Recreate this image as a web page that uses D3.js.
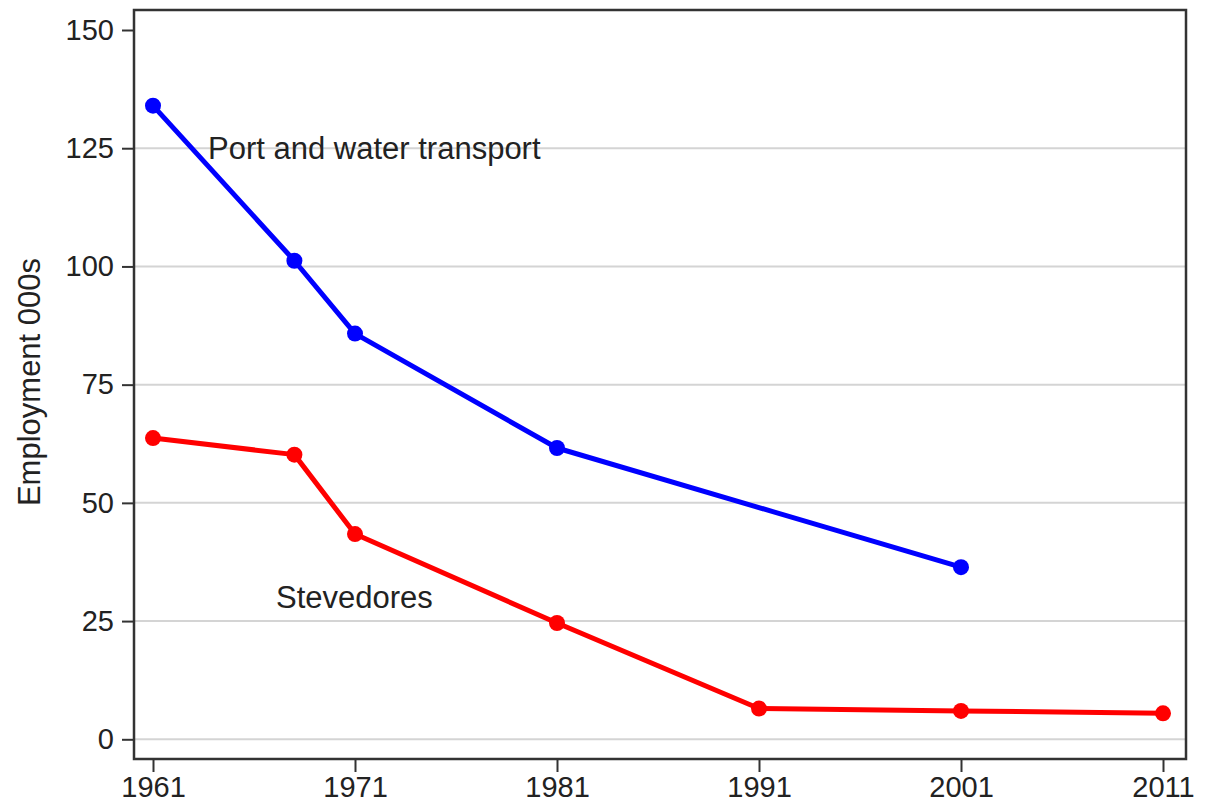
<!DOCTYPE html>
<html>
<head>
<meta charset="utf-8">
<script src="https://cdn.jsdelivr.net/npm/d3@7"></script>
<style>
  body { margin: 0; background: #fff; }
  svg text { font-family: "Liberation Sans", Arial, sans-serif; fill: #222; }
</style>
</head>
<body>
<svg width="1205" height="802"></svg>
<script>
var portYears = [1961, 1968, 1971, 1981, 2001];
var portValues = [134, 101.2, 85.8, 61.6, 36.4];
var stevYears = [1961, 1968, 1971, 1981, 1991, 2001, 2011];
var stevValues = [63.7, 60.2, 43.4, 24.6, 6.5, 6.0, 5.5];
var xTicks = [1961, 1971, 1981, 1991, 2001, 2011];
var yTicks = [0, 25, 50, 75, 100, 125, 150];

var svg = d3.select("svg"),
    frame = {left: 134, top: 10, right: 1186, bottom: 759};

var x = d3.scaleLinear().domain([1961, 2011]).range([153, 1163]);
var y = d3.scaleLinear().domain([0, 150]).range([739.3, 30]);

// grid
svg.append("g").selectAll("line")
    .data(yTicks.filter(function(d) { return d < 150; }))
  .enter().append("line")
    .attr("x1", frame.left).attr("x2", frame.right)
    .attr("y1", function(d) { return y(d); })
    .attr("y2", function(d) { return y(d); })
    .attr("stroke", "#d4d4d4").attr("stroke-width", 2);

// axes
var yAxis = svg.append("g")
    .attr("transform", "translate(" + frame.left + ",0)")
    .call(d3.axisLeft(y).tickValues(yTicks).tickSize(12).tickPadding(8));
var xAxis = svg.append("g")
    .attr("transform", "translate(0," + frame.bottom + ")")
    .call(d3.axisBottom(x).tickValues(xTicks).tickFormat(d3.format("d")).tickSize(13).tickPadding(4));

[yAxis, xAxis].forEach(function(a) {
  a.select(".domain").remove();
  a.selectAll("line").attr("stroke", "#333").attr("stroke-width", 2);
  a.selectAll("text").style("font-size", "29px").attr("fill", "#222");
});

svg.append("rect")
    .attr("x", frame.left).attr("y", frame.top)
    .attr("width", frame.right - frame.left).attr("height", frame.bottom - frame.top)
    .attr("fill", "none").attr("stroke", "#333").attr("stroke-width", 2.5);

svg.append("text")
    .attr("transform", "translate(40,382) rotate(-90)")
    .attr("text-anchor", "middle")
    .style("font-size", "31px")
    .text("Employment 000s");

function drawSeries(years, values, color) {
  var pts = years.map(function(d, i) { return [d, values[i]]; });
  var line = d3.line()
      .x(function(d) { return x(d[0]); })
      .y(function(d) { return y(d[1]); });
  svg.append("path").datum(pts)
      .attr("d", line)
      .attr("fill", "none")
      .attr("stroke", color)
      .attr("stroke-width", 5)
      .attr("stroke-linejoin", "round");
  svg.append("g").selectAll("circle")
      .data(pts)
    .enter().append("circle")
      .attr("cx", function(d) { return x(d[0]); })
      .attr("cy", function(d) { return y(d[1]); })
      .attr("r", 8)
      .attr("fill", color);
}

drawSeries(portYears, portValues, "#0000ff");
drawSeries(stevYears, stevValues, "#ff0000");

svg.append("text").attr("x", 208).attr("y", 159)
    .style("font-size", "31px").text("Port and water transport");
svg.append("text").attr("x", 276).attr("y", 608)
    .style("font-size", "31px").text("Stevedores");
</script>
</body>
</html>
